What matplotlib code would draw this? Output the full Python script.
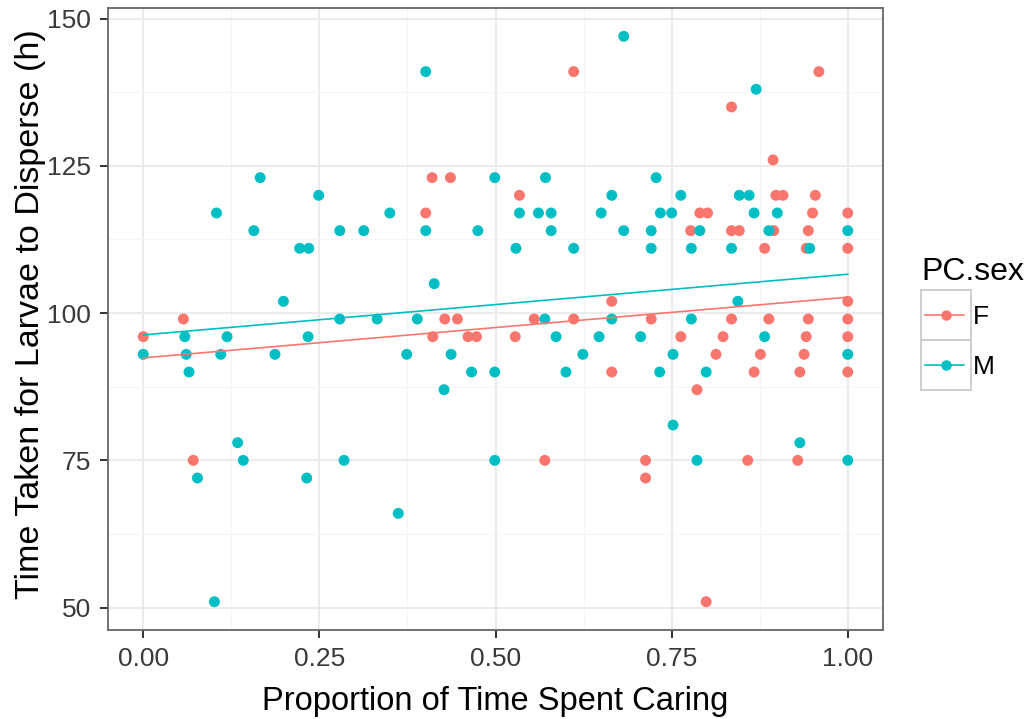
import numpy as np
import matplotlib
matplotlib.use("Agg")
import matplotlib.pyplot as plt
from matplotlib.patches import Rectangle
from matplotlib.ticker import MultipleLocator, FormatStrFormatter

plt.rcParams['font.family'] = ['Liberation Sans', 'DejaVu Sans']

# ================= data =================
f_care = [0.000, 0.057, 0.071, 0.401, 0.410, 0.436, 0.411, 0.428, 0.446, 0.461,
          0.473, 0.528, 0.534, 0.555, 0.570, 0.611, 0.611, 0.665, 0.665, 0.713,
          0.713, 0.721, 0.763, 0.777, 0.786, 0.790, 0.801, 0.799, 0.813, 0.823,
          0.835, 0.835, 0.846, 0.835, 0.858, 0.867, 0.876, 0.882, 0.888, 0.894,
          0.895, 0.898, 0.908, 0.929, 0.932, 0.938, 0.941, 0.941, 0.944, 0.944,
          0.950, 0.954, 0.959, 1.000, 1.000, 1.000, 1.000, 1.000, 1.000]
f_time = [96, 99, 75, 117, 123, 123, 96, 99, 99, 96,
          96, 96, 120, 99, 75, 141, 99, 102, 90, 75,
          72, 99, 96, 114, 87, 117, 117, 51, 93, 96,
          135, 114, 114, 99, 75, 90, 93, 111, 99, 126,
          114, 120, 120, 75, 90, 93, 96, 111, 114, 99,
          117, 120, 141, 117, 111, 102, 99, 96, 90]

m_care = [0.000, 0.059, 0.061, 0.065, 0.077, 0.101, 0.104, 0.110, 0.119, 0.134,
          0.142, 0.157, 0.166, 0.187, 0.199, 0.222, 0.232, 0.234, 0.235, 0.249,
          0.279, 0.279, 0.285, 0.313, 0.332, 0.350, 0.362, 0.374, 0.389, 0.401,
          0.401, 0.413, 0.427, 0.437, 0.466, 0.475, 0.499, 0.499, 0.499, 0.529,
          0.534, 0.561, 0.570, 0.571, 0.579, 0.579, 0.586, 0.600, 0.611, 0.624,
          0.647, 0.650, 0.665, 0.665, 0.682, 0.682, 0.706, 0.721, 0.721, 0.728,
          0.734, 0.733, 0.750, 0.752, 0.752, 0.763, 0.778, 0.778, 0.786, 0.790,
          0.799, 0.835, 0.844, 0.846, 0.860, 0.867, 0.870, 0.882, 0.888, 0.900,
          0.932, 0.946, 1.000, 1.000, 1.000]
m_time = [93, 96, 93, 90, 72, 51, 117, 93, 96, 78,
          75, 114, 123, 93, 102, 111, 72, 96, 111, 120,
          114, 99, 75, 114, 99, 117, 66, 93, 99, 141,
          114, 105, 87, 93, 90, 114, 123, 90, 75, 111,
          117, 117, 99, 123, 117, 114, 96, 90, 111, 93,
          96, 117, 120, 99, 147, 114, 96, 114, 111, 123,
          117, 90, 117, 93, 81, 120, 111, 99, 75, 114,
          90, 111, 102, 120, 120, 117, 138, 96, 114, 117,
          78, 111, 114, 93, 75]

# lm fit lines as drawn (many points overlap, so the fit is read, not refit)
fit_care = [0.0, 1.0]
f_fit_time = [92.4, 102.7]
m_fit_time = [96.3, 106.6]

groups = ["F", "M"]
colors = {"F": "#F8766D", "M": "#00BFC4"}
series = {"F": (f_care, f_time), "M": (m_care, m_time)}
fits = {"F": f_fit_time, "M": m_fit_time}

# ================= figure / panel =================
W, H = 1030, 719
fig = plt.figure(figsize=(W / 100, H / 100), dpi=100)
ax = fig.add_axes([108 / W, 1 - 630 / H, (883 - 108) / W, (630 - 8) / H])

for g in groups:
    x, y = series[g]
    ax.scatter(x, y, s=62, color=colors[g], edgecolors="none", zorder=3)
    ax.plot(fit_care, fits[g], color=colors[g], lw=1.2, zorder=4)

# ggplot-style 5% expansion
all_x = f_care + m_care
all_y = f_time + m_time
dx = 0.05 * (max(all_x) - min(all_x))
dy = 0.05 * (max(all_y) - min(all_y))
ax.set_xlim(min(all_x) - dx, max(all_x) + dx)
ax.set_ylim(min(all_y) - dy, max(all_y) + dy)

ax.xaxis.set_major_locator(MultipleLocator(0.25))
ax.xaxis.set_minor_locator(MultipleLocator(0.125))
ax.xaxis.set_major_formatter(FormatStrFormatter("%.2f"))
ax.yaxis.set_major_locator(MultipleLocator(25))
ax.yaxis.set_minor_locator(MultipleLocator(12.5))

ax.set_axisbelow(True)
ax.grid(which="major", color="#EBEBEB", lw=1.5)
ax.grid(which="minor", color="#F4F4F4", lw=0.8)
ax.tick_params(which="major", direction="out", length=6, width=1.4,
               color="#333333", labelsize=19, labelcolor="#3a3a3a", pad=6)
ax.tick_params(which="minor", length=0)
for sp in ax.spines.values():
    sp.set_color("#666666")
    sp.set_linewidth(1.3)

fig.text(495.5 / W, 1 - 710 / H, "Proportion of Time Spent Caring",
         ha="center", va="baseline", fontsize=23.5)
fig.text(31 / W, 1 - 314 / H, "Time Taken for Larvae to Disperse (h)",
         ha="center", va="center", rotation=90, fontsize=24.5)

# ================= legend =================
fig.text(921 / W, 1 - 280 / H, "PC.sex", ha="left", va="baseline", fontsize=23)
lax = fig.add_axes([921 / W, 1 - 390 / H, 50 / W, 100 / H])
lax.set_xlim(0, 1)
lax.set_ylim(0, 2)
lax.axis("off")
for i, g in enumerate(groups):
    y0 = 1 - i
    lax.add_patch(Rectangle((0, y0), 1, 1, facecolor="white", edgecolor="#CCCCCC",
                            lw=1.3, clip_on=False))
    lax.plot([0.07, 0.85], [y0 + 0.5] * 2, color=colors[g], lw=1.2)
    lax.plot([0.49], [y0 + 0.5], "o", color=colors[g], ms=7.5, mec="none")
    fig.text(973 / W, 1 - (317 + 49.5 * i) / H, g, ha="left", va="center", fontsize=19)

fig.savefig("out.png", dpi=100)
